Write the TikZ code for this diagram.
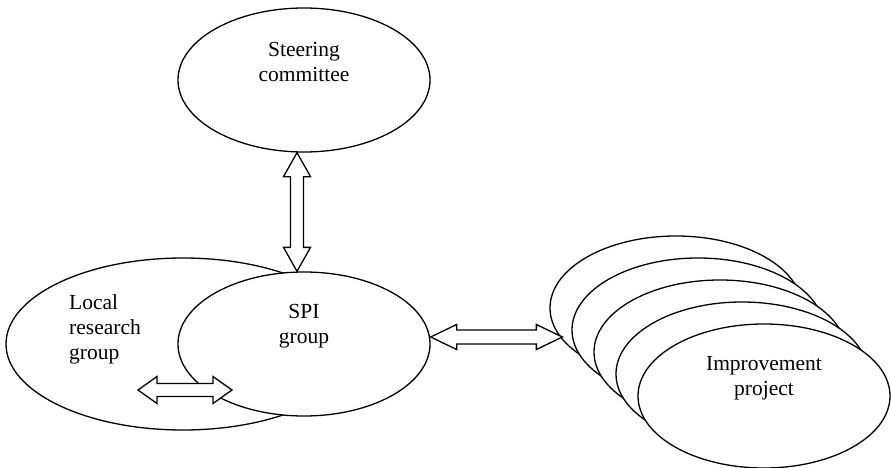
\documentclass[tikz,border=0pt]{standalone}
\usepackage{fontspec}
\setmainfont{Liberation Serif}
\usetikzlibrary{calc,math,shapes.geometric}

\begin{document}
\begin{tikzpicture}[x=1pt,y=-1pt,
    blob/.style={ellipse,draw,fill=white,line width=1.3pt,inner sep=0pt,
      minimum width=252pt,minimum height=144pt},
    blobtext/.style={font=\fontsize{21.5}{25}\selectfont,align=center,inner sep=0pt},
    fatarrow/.style={draw,fill=white,line width=1.3pt,line join=miter}]
  \useasboundingbox (0,0) rectangle (891,468);

  \node[blob] (steer) at (304,80) {};
  \node[blobtext] (steertext) at ($(steer.center)+(0,-18)$) {Steering\\committee};

  \node[blob,minimum width=354pt,minimum height=172pt] (local) at (183,344) {};
  \node[blobtext,align=left,anchor=west] (localtext) at ($(local.center)+(-114,-15)$) {Local\\research\\group};
  \node[blob] (spi) at (304,344) {};
  \node[blobtext] (spitext) at ($(spi.center)+(0,-18)$) {SPI\\group};

  \foreach \k in {0,...,4} {
    \tikzmath{
      real \cx, \cy;
      \cx = 676 + 22*\k;
      \cy = 308 + 22*\k;
    }
    \node[blob] (imp\k) at (\cx,\cy) {};
  }
  \node[blobtext] (imptext) at ($(imp4.center)+(0,-18)$) {Improvement\\project};

  % steering committee <-> SPI group
  \coordinate (vtop) at ($(steer.south)+(-7,0)$);
  \coordinate (vbot) at ($(spi.north)+(-7,0)$);
  \draw[fatarrow] (vtop) -- ++(13.5,24) -- ++(-7,0) -- ($(vbot)+(6.5,-24)$) -- ++(7,0)
    -- (vbot) -- ++(-13.5,-24) -- ++(7,0) -- ($(vtop)+(-6.5,24)$) -- ++(-7,0) -- cycle;

  % SPI group <-> improvement projects
  \coordinate (midL) at ($(spi.east)+(0,-7)$);
  \coordinate (midR) at ($(imp0.west)+(13,29)$);
  \draw[fatarrow] (midL) -- ++(26,-12.5) -- ++(0,5.5) -- ($(midR)+(-26,-7)$) -- ++(0,-5.5)
    -- (midR) -- ++(-26,12.5) -- ++(0,-5.5) -- ($(midL)+(26,7)$) -- ++(0,5.5) -- cycle;

  % local research group <-> SPI group
  \coordinate (lowL) at (138,390);
  \coordinate (lowR) at (232,390);
  \draw[fatarrow] (lowL) -- ++(19,-13.5) -- ++(0,7) -- ($(lowR)+(-19,-6.5)$) -- ++(0,-7)
    -- (lowR) -- ++(-19,13.5) -- ++(0,-7) -- ($(lowL)+(19,6.5)$) -- ++(0,7) -- cycle;
\end{tikzpicture}
\end{document}
